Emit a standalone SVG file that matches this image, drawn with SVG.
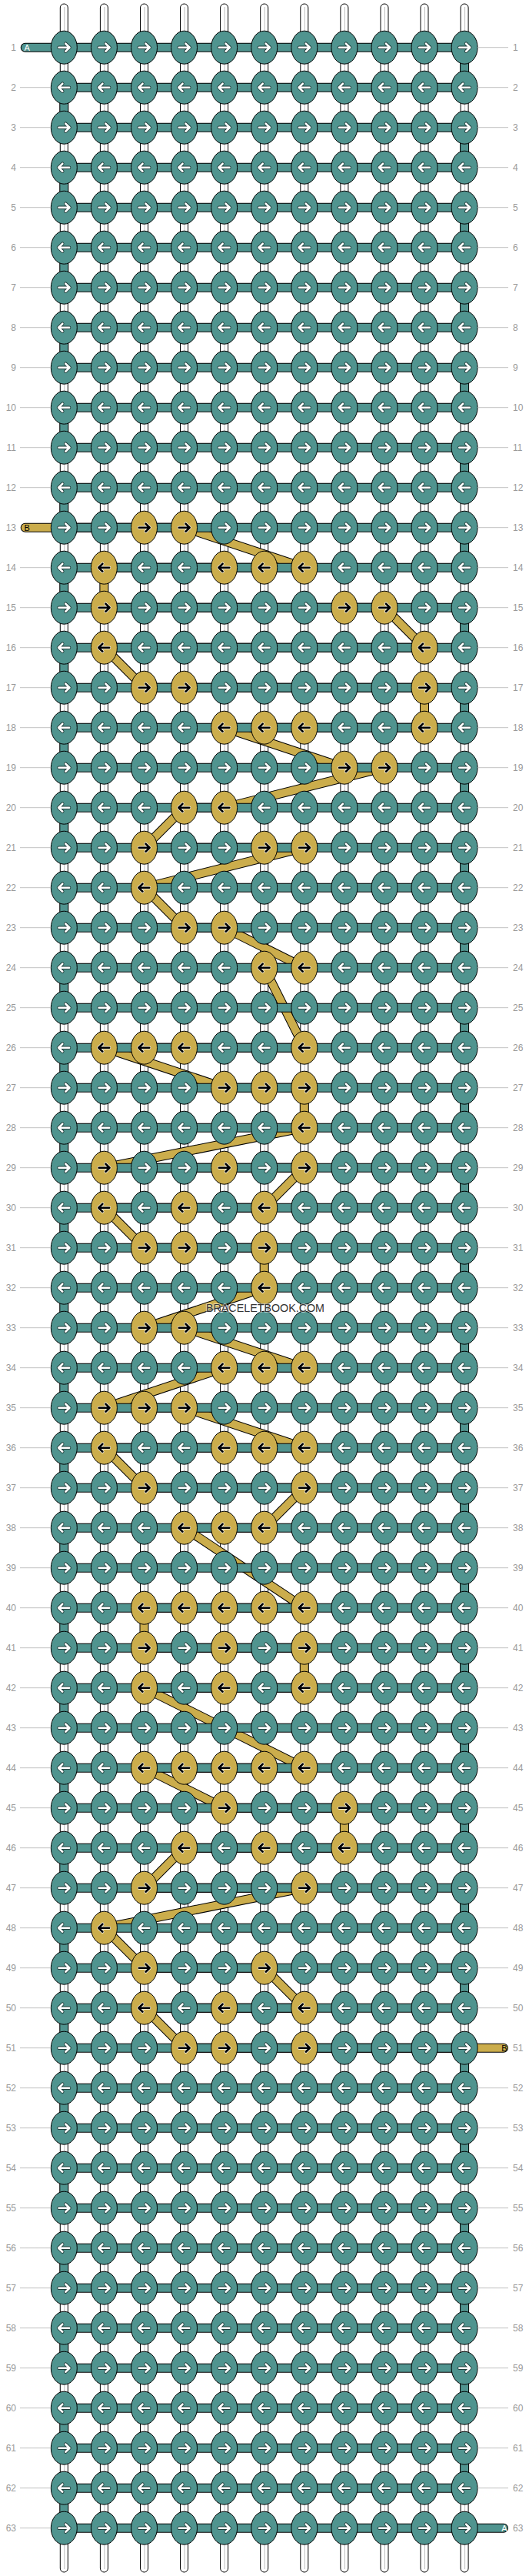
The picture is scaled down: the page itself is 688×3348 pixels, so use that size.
<svg xmlns="http://www.w3.org/2000/svg" xmlns:xlink="http://www.w3.org/1999/xlink" width="688" height="3348" viewBox="0 0 688 3348">
<style>
.s{fill:#fff;stroke:#000;stroke-width:1}
.sc{fill:none;stroke:#bdbdbd;stroke-width:1}
.po{fill:none;stroke:#000;stroke-width:12;stroke-linecap:round;stroke-linejoin:round}
.pt{fill:none;stroke:#50948f;stroke-width:10;stroke-linecap:round;stroke-linejoin:round}
.pg{fill:none;stroke:#cbad4c;stroke-width:10;stroke-linecap:round;stroke-linejoin:round}
.kt{fill:#50948f;stroke:#000;stroke-width:1}
.kg{fill:#cbad4c;stroke:#000;stroke-width:1}
.ow{fill:none;stroke:#1f3d3a;stroke-width:4.4;stroke-linecap:round;stroke-linejoin:round}
.iw{fill:none;stroke:#fff;stroke-width:2.6;stroke-linecap:round;stroke-linejoin:round}
.ob{fill:none;stroke:#fff;stroke-width:4;stroke-linecap:round;stroke-linejoin:round}
.ib{fill:none;stroke:#000;stroke-width:2.6;stroke-linecap:round;stroke-linejoin:round}
.gl{fill:none;stroke:#c2c2c2;stroke-width:1}
.lb{font-family:"Liberation Sans",Arial,sans-serif;font-size:12px;fill:#9a9a9a}
.st{font-family:"Liberation Sans",Arial,sans-serif;font-size:11px}
.wm{font-family:"Liberation Sans",Arial,sans-serif;font-size:15px;fill:#333;stroke:#fff;stroke-opacity:0.5;stroke-width:2;paint-order:stroke}
</style>
<defs>
<path id="ar" d="M-6.8 0H7M2-5L7.2 0L2 5"/>
<g id="tR"><ellipse class="kt" rx="17" ry="21.5"/><use href="#ar" class="ow"/><use href="#ar" class="iw"/></g>
<g id="tL"><ellipse class="kt" rx="17" ry="21.5"/><g transform="scale(-1 1)"><use href="#ar" class="ow"/><use href="#ar" class="iw"/></g></g>
<g id="gR"><ellipse class="kg" rx="17" ry="21.5"/><use href="#ar" class="ob"/><use href="#ar" class="ib"/></g>
<g id="gL"><ellipse class="kg" rx="17" ry="21.5"/><g transform="scale(-1 1)"><use href="#ar" class="ob"/><use href="#ar" class="ib"/></g></g>
<path id="pB" d="M32.7 685.7H239.5L395.8 737.7H135.4L135.4 789.7H500L552 841.7H135.4L187.5 893.7H552L552 945.7H291.6L447.9 997.7H500L291.6 1049.7H239.5L187.5 1101.7H395.8L187.5 1153.7L239.5 1205.7H291.6L395.8 1257.7H343.7L395.8 1361.7H135.4L291.6 1413.7H395.8L395.8 1465.7L135.4 1517.7H395.8L343.7 1569.7H135.4L187.5 1621.7H343.7L343.7 1673.7L187.5 1725.7H239.5L395.8 1777.7H291.6L135.4 1829.7H239.5L395.8 1881.7H135.4L187.5 1933.7H395.8L343.7 1985.7H239.5L395.8 2089.7H187.5L187.5 2141.7H395.8L395.8 2193.7H187.5L395.8 2297.7H187.5L291.6 2349.7H447.9L447.9 2401.7H239.5L187.5 2453.7H395.8L135.4 2505.7L187.5 2557.7H343.7L395.8 2609.7H187.5L239.5 2661.7H655"/>
<path id="pA" d="M32.7 61.7H604.1V113.7H83.3V165.7H604.1V217.7H83.3V269.7H604.1V321.7H83.3V373.7H604.1V425.7H83.3V477.7H604.1V529.7H83.3V581.7H604.1V633.7H83.3V685.7H604.1V737.7H83.3V789.7H604.1V841.7H83.3V893.7H604.1V945.7H83.3V997.7H604.1V1049.7H83.3V1101.7H604.1V1153.7H83.3V1205.7H604.1V1257.7H83.3V1309.7H604.1V1361.7H83.3V1413.7H604.1V1465.7H83.3V1517.7H604.1V1569.7H83.3V1621.7H604.1V1673.7H83.3V1725.7H604.1V1777.7H83.3V1829.7H604.1V1881.7H83.3V1933.7H604.1V1985.7H83.3V2037.7H604.1V2089.7H83.3V2141.7H604.1V2193.7H83.3V2245.7H604.1V2297.7H83.3V2349.7H604.1V2401.7H83.3V2453.7H604.1V2505.7H83.3V2557.7H604.1V2609.7H83.3V2661.7H604.1V2713.7H83.3V2765.7H604.1V2817.7H83.3V2869.7H604.1V2921.7H83.3V2973.7H604.1V3025.7H83.3V3077.7H604.1V3129.7H83.3V3181.7H604.1V3233.7H83.3V3285.7H655"/>
</defs>
<rect width="688" height="3348" fill="#fff"/>
<g id="strands">
<rect class="s" x="78.3" y="5" width="10" height="3338" rx="5"/>
<rect class="s" x="130.4" y="5" width="10" height="3338" rx="5"/>
<rect class="s" x="182.5" y="5" width="10" height="3338" rx="5"/>
<rect class="s" x="234.5" y="5" width="10" height="3338" rx="5"/>
<rect class="s" x="286.6" y="5" width="10" height="3338" rx="5"/>
<rect class="s" x="338.7" y="5" width="10" height="3338" rx="5"/>
<rect class="s" x="390.8" y="5" width="10" height="3338" rx="5"/>
<rect class="s" x="442.9" y="5" width="10" height="3338" rx="5"/>
<rect class="s" x="495" y="5" width="10" height="3338" rx="5"/>
<rect class="s" x="547" y="5" width="10" height="3338" rx="5"/>
<rect class="s" x="599.1" y="5" width="10" height="3338" rx="5"/>
<path class="sc" d="M83.8 9V3339M135.9 9V3339M188 9V3339M240 9V3339M292.1 9V3339M344.2 9V3339M396.3 9V3339M448.4 9V3339M500.5 9V3339M552.5 9V3339M604.6 9V3339"/>
</g>
<g id="connectors">
<use href="#pB" class="po"/>
<use href="#pB" class="pg"/>
<use href="#pA" class="po"/>
<use href="#pA" class="pt"/>
<text class="st" x="31.5" y="65.7" fill="#fff">A</text>
<text class="st" x="31.5" y="689.7" fill="#000">B</text>
<text class="st" x="659.5" y="2665.7" fill="#000" text-anchor="end">B</text>
<text class="st" x="659.5" y="3289.7" fill="#fff" text-anchor="end">A</text>
</g>
<g id="knots">
<g id="row1" transform="translate(0 61.7)"><g id="k1-1"><use href="#tR" x="83.3"/></g><g id="k1-2"><use href="#tR" x="135.4"/></g><g id="k1-3"><use href="#tR" x="187.5"/></g><g id="k1-4"><use href="#tR" x="239.5"/></g><g id="k1-5"><use href="#tR" x="291.6"/></g><g id="k1-6"><use href="#tR" x="343.7"/></g><g id="k1-7"><use href="#tR" x="395.8"/></g><g id="k1-8"><use href="#tR" x="447.9"/></g><g id="k1-9"><use href="#tR" x="500"/></g><g id="k1-10"><use href="#tR" x="552"/></g><g id="k1-11"><use href="#tR" x="604.1"/></g></g>
<g id="row2" transform="translate(0 113.7)"><g id="k2-1"><use href="#tL" x="83.3"/></g><g id="k2-2"><use href="#tL" x="135.4"/></g><g id="k2-3"><use href="#tL" x="187.5"/></g><g id="k2-4"><use href="#tL" x="239.5"/></g><g id="k2-5"><use href="#tL" x="291.6"/></g><g id="k2-6"><use href="#tL" x="343.7"/></g><g id="k2-7"><use href="#tL" x="395.8"/></g><g id="k2-8"><use href="#tL" x="447.9"/></g><g id="k2-9"><use href="#tL" x="500"/></g><g id="k2-10"><use href="#tL" x="552"/></g><g id="k2-11"><use href="#tL" x="604.1"/></g></g>
<g id="row3" transform="translate(0 165.7)"><g id="k3-1"><use href="#tR" x="83.3"/></g><g id="k3-2"><use href="#tR" x="135.4"/></g><g id="k3-3"><use href="#tR" x="187.5"/></g><g id="k3-4"><use href="#tR" x="239.5"/></g><g id="k3-5"><use href="#tR" x="291.6"/></g><g id="k3-6"><use href="#tR" x="343.7"/></g><g id="k3-7"><use href="#tR" x="395.8"/></g><g id="k3-8"><use href="#tR" x="447.9"/></g><g id="k3-9"><use href="#tR" x="500"/></g><g id="k3-10"><use href="#tR" x="552"/></g><g id="k3-11"><use href="#tR" x="604.1"/></g></g>
<g id="row4" transform="translate(0 217.7)"><g id="k4-1"><use href="#tL" x="83.3"/></g><g id="k4-2"><use href="#tL" x="135.4"/></g><g id="k4-3"><use href="#tL" x="187.5"/></g><g id="k4-4"><use href="#tL" x="239.5"/></g><g id="k4-5"><use href="#tL" x="291.6"/></g><g id="k4-6"><use href="#tL" x="343.7"/></g><g id="k4-7"><use href="#tL" x="395.8"/></g><g id="k4-8"><use href="#tL" x="447.9"/></g><g id="k4-9"><use href="#tL" x="500"/></g><g id="k4-10"><use href="#tL" x="552"/></g><g id="k4-11"><use href="#tL" x="604.1"/></g></g>
<g id="row5" transform="translate(0 269.7)"><g id="k5-1"><use href="#tR" x="83.3"/></g><g id="k5-2"><use href="#tR" x="135.4"/></g><g id="k5-3"><use href="#tR" x="187.5"/></g><g id="k5-4"><use href="#tR" x="239.5"/></g><g id="k5-5"><use href="#tR" x="291.6"/></g><g id="k5-6"><use href="#tR" x="343.7"/></g><g id="k5-7"><use href="#tR" x="395.8"/></g><g id="k5-8"><use href="#tR" x="447.9"/></g><g id="k5-9"><use href="#tR" x="500"/></g><g id="k5-10"><use href="#tR" x="552"/></g><g id="k5-11"><use href="#tR" x="604.1"/></g></g>
<g id="row6" transform="translate(0 321.7)"><g id="k6-1"><use href="#tL" x="83.3"/></g><g id="k6-2"><use href="#tL" x="135.4"/></g><g id="k6-3"><use href="#tL" x="187.5"/></g><g id="k6-4"><use href="#tL" x="239.5"/></g><g id="k6-5"><use href="#tL" x="291.6"/></g><g id="k6-6"><use href="#tL" x="343.7"/></g><g id="k6-7"><use href="#tL" x="395.8"/></g><g id="k6-8"><use href="#tL" x="447.9"/></g><g id="k6-9"><use href="#tL" x="500"/></g><g id="k6-10"><use href="#tL" x="552"/></g><g id="k6-11"><use href="#tL" x="604.1"/></g></g>
<g id="row7" transform="translate(0 373.7)"><g id="k7-1"><use href="#tR" x="83.3"/></g><g id="k7-2"><use href="#tR" x="135.4"/></g><g id="k7-3"><use href="#tR" x="187.5"/></g><g id="k7-4"><use href="#tR" x="239.5"/></g><g id="k7-5"><use href="#tR" x="291.6"/></g><g id="k7-6"><use href="#tR" x="343.7"/></g><g id="k7-7"><use href="#tR" x="395.8"/></g><g id="k7-8"><use href="#tR" x="447.9"/></g><g id="k7-9"><use href="#tR" x="500"/></g><g id="k7-10"><use href="#tR" x="552"/></g><g id="k7-11"><use href="#tR" x="604.1"/></g></g>
<g id="row8" transform="translate(0 425.7)"><g id="k8-1"><use href="#tL" x="83.3"/></g><g id="k8-2"><use href="#tL" x="135.4"/></g><g id="k8-3"><use href="#tL" x="187.5"/></g><g id="k8-4"><use href="#tL" x="239.5"/></g><g id="k8-5"><use href="#tL" x="291.6"/></g><g id="k8-6"><use href="#tL" x="343.7"/></g><g id="k8-7"><use href="#tL" x="395.8"/></g><g id="k8-8"><use href="#tL" x="447.9"/></g><g id="k8-9"><use href="#tL" x="500"/></g><g id="k8-10"><use href="#tL" x="552"/></g><g id="k8-11"><use href="#tL" x="604.1"/></g></g>
<g id="row9" transform="translate(0 477.7)"><g id="k9-1"><use href="#tR" x="83.3"/></g><g id="k9-2"><use href="#tR" x="135.4"/></g><g id="k9-3"><use href="#tR" x="187.5"/></g><g id="k9-4"><use href="#tR" x="239.5"/></g><g id="k9-5"><use href="#tR" x="291.6"/></g><g id="k9-6"><use href="#tR" x="343.7"/></g><g id="k9-7"><use href="#tR" x="395.8"/></g><g id="k9-8"><use href="#tR" x="447.9"/></g><g id="k9-9"><use href="#tR" x="500"/></g><g id="k9-10"><use href="#tR" x="552"/></g><g id="k9-11"><use href="#tR" x="604.1"/></g></g>
<g id="row10" transform="translate(0 529.7)"><g id="k10-1"><use href="#tL" x="83.3"/></g><g id="k10-2"><use href="#tL" x="135.4"/></g><g id="k10-3"><use href="#tL" x="187.5"/></g><g id="k10-4"><use href="#tL" x="239.5"/></g><g id="k10-5"><use href="#tL" x="291.6"/></g><g id="k10-6"><use href="#tL" x="343.7"/></g><g id="k10-7"><use href="#tL" x="395.8"/></g><g id="k10-8"><use href="#tL" x="447.9"/></g><g id="k10-9"><use href="#tL" x="500"/></g><g id="k10-10"><use href="#tL" x="552"/></g><g id="k10-11"><use href="#tL" x="604.1"/></g></g>
<g id="row11" transform="translate(0 581.7)"><g id="k11-1"><use href="#tR" x="83.3"/></g><g id="k11-2"><use href="#tR" x="135.4"/></g><g id="k11-3"><use href="#tR" x="187.5"/></g><g id="k11-4"><use href="#tR" x="239.5"/></g><g id="k11-5"><use href="#tR" x="291.6"/></g><g id="k11-6"><use href="#tR" x="343.7"/></g><g id="k11-7"><use href="#tR" x="395.8"/></g><g id="k11-8"><use href="#tR" x="447.9"/></g><g id="k11-9"><use href="#tR" x="500"/></g><g id="k11-10"><use href="#tR" x="552"/></g><g id="k11-11"><use href="#tR" x="604.1"/></g></g>
<g id="row12" transform="translate(0 633.7)"><g id="k12-1"><use href="#tL" x="83.3"/></g><g id="k12-2"><use href="#tL" x="135.4"/></g><g id="k12-3"><use href="#tL" x="187.5"/></g><g id="k12-4"><use href="#tL" x="239.5"/></g><g id="k12-5"><use href="#tL" x="291.6"/></g><g id="k12-6"><use href="#tL" x="343.7"/></g><g id="k12-7"><use href="#tL" x="395.8"/></g><g id="k12-8"><use href="#tL" x="447.9"/></g><g id="k12-9"><use href="#tL" x="500"/></g><g id="k12-10"><use href="#tL" x="552"/></g><g id="k12-11"><use href="#tL" x="604.1"/></g></g>
<g id="row13" transform="translate(0 685.7)"><g id="k13-1"><use href="#tR" x="83.3"/></g><g id="k13-2"><use href="#tR" x="135.4"/></g><g id="k13-3"><use href="#gR" x="187.5"/></g><g id="k13-4"><use href="#gR" x="239.5"/></g><g id="k13-5"><use href="#tR" x="291.6"/></g><g id="k13-6"><use href="#tR" x="343.7"/></g><g id="k13-7"><use href="#tR" x="395.8"/></g><g id="k13-8"><use href="#tR" x="447.9"/></g><g id="k13-9"><use href="#tR" x="500"/></g><g id="k13-10"><use href="#tR" x="552"/></g><g id="k13-11"><use href="#tR" x="604.1"/></g></g>
<g id="row14" transform="translate(0 737.7)"><g id="k14-1"><use href="#tL" x="83.3"/></g><g id="k14-2"><use href="#gL" x="135.4"/></g><g id="k14-3"><use href="#tL" x="187.5"/></g><g id="k14-4"><use href="#tL" x="239.5"/></g><g id="k14-5"><use href="#gL" x="291.6"/></g><g id="k14-6"><use href="#gL" x="343.7"/></g><g id="k14-7"><use href="#gL" x="395.8"/></g><g id="k14-8"><use href="#tL" x="447.9"/></g><g id="k14-9"><use href="#tL" x="500"/></g><g id="k14-10"><use href="#tL" x="552"/></g><g id="k14-11"><use href="#tL" x="604.1"/></g></g>
<g id="row15" transform="translate(0 789.7)"><g id="k15-1"><use href="#tR" x="83.3"/></g><g id="k15-2"><use href="#gR" x="135.4"/></g><g id="k15-3"><use href="#tR" x="187.5"/></g><g id="k15-4"><use href="#tR" x="239.5"/></g><g id="k15-5"><use href="#tR" x="291.6"/></g><g id="k15-6"><use href="#tR" x="343.7"/></g><g id="k15-7"><use href="#tR" x="395.8"/></g><g id="k15-8"><use href="#gR" x="447.9"/></g><g id="k15-9"><use href="#gR" x="500"/></g><g id="k15-10"><use href="#tR" x="552"/></g><g id="k15-11"><use href="#tR" x="604.1"/></g></g>
<g id="row16" transform="translate(0 841.7)"><g id="k16-1"><use href="#tL" x="83.3"/></g><g id="k16-2"><use href="#gL" x="135.4"/></g><g id="k16-3"><use href="#tL" x="187.5"/></g><g id="k16-4"><use href="#tL" x="239.5"/></g><g id="k16-5"><use href="#tL" x="291.6"/></g><g id="k16-6"><use href="#tL" x="343.7"/></g><g id="k16-7"><use href="#tL" x="395.8"/></g><g id="k16-8"><use href="#tL" x="447.9"/></g><g id="k16-9"><use href="#tL" x="500"/></g><g id="k16-10"><use href="#gL" x="552"/></g><g id="k16-11"><use href="#tL" x="604.1"/></g></g>
<g id="row17" transform="translate(0 893.7)"><g id="k17-1"><use href="#tR" x="83.3"/></g><g id="k17-2"><use href="#tR" x="135.4"/></g><g id="k17-3"><use href="#gR" x="187.5"/></g><g id="k17-4"><use href="#gR" x="239.5"/></g><g id="k17-5"><use href="#tR" x="291.6"/></g><g id="k17-6"><use href="#tR" x="343.7"/></g><g id="k17-7"><use href="#tR" x="395.8"/></g><g id="k17-8"><use href="#tR" x="447.9"/></g><g id="k17-9"><use href="#tR" x="500"/></g><g id="k17-10"><use href="#gR" x="552"/></g><g id="k17-11"><use href="#tR" x="604.1"/></g></g>
<g id="row18" transform="translate(0 945.7)"><g id="k18-1"><use href="#tL" x="83.3"/></g><g id="k18-2"><use href="#tL" x="135.4"/></g><g id="k18-3"><use href="#tL" x="187.5"/></g><g id="k18-4"><use href="#tL" x="239.5"/></g><g id="k18-5"><use href="#gL" x="291.6"/></g><g id="k18-6"><use href="#gL" x="343.7"/></g><g id="k18-7"><use href="#gL" x="395.8"/></g><g id="k18-8"><use href="#tL" x="447.9"/></g><g id="k18-9"><use href="#tL" x="500"/></g><g id="k18-10"><use href="#gL" x="552"/></g><g id="k18-11"><use href="#tL" x="604.1"/></g></g>
<g id="row19" transform="translate(0 997.7)"><g id="k19-1"><use href="#tR" x="83.3"/></g><g id="k19-2"><use href="#tR" x="135.4"/></g><g id="k19-3"><use href="#tR" x="187.5"/></g><g id="k19-4"><use href="#tR" x="239.5"/></g><g id="k19-5"><use href="#tR" x="291.6"/></g><g id="k19-6"><use href="#tR" x="343.7"/></g><g id="k19-7"><use href="#tR" x="395.8"/></g><g id="k19-8"><use href="#gR" x="447.9"/></g><g id="k19-9"><use href="#gR" x="500"/></g><g id="k19-10"><use href="#tR" x="552"/></g><g id="k19-11"><use href="#tR" x="604.1"/></g></g>
<g id="row20" transform="translate(0 1049.7)"><g id="k20-1"><use href="#tL" x="83.3"/></g><g id="k20-2"><use href="#tL" x="135.4"/></g><g id="k20-3"><use href="#tL" x="187.5"/></g><g id="k20-4"><use href="#gL" x="239.5"/></g><g id="k20-5"><use href="#gL" x="291.6"/></g><g id="k20-6"><use href="#tL" x="343.7"/></g><g id="k20-7"><use href="#tL" x="395.8"/></g><g id="k20-8"><use href="#tL" x="447.9"/></g><g id="k20-9"><use href="#tL" x="500"/></g><g id="k20-10"><use href="#tL" x="552"/></g><g id="k20-11"><use href="#tL" x="604.1"/></g></g>
<g id="row21" transform="translate(0 1101.7)"><g id="k21-1"><use href="#tR" x="83.3"/></g><g id="k21-2"><use href="#tR" x="135.4"/></g><g id="k21-3"><use href="#gR" x="187.5"/></g><g id="k21-4"><use href="#tR" x="239.5"/></g><g id="k21-5"><use href="#tR" x="291.6"/></g><g id="k21-6"><use href="#gR" x="343.7"/></g><g id="k21-7"><use href="#gR" x="395.8"/></g><g id="k21-8"><use href="#tR" x="447.9"/></g><g id="k21-9"><use href="#tR" x="500"/></g><g id="k21-10"><use href="#tR" x="552"/></g><g id="k21-11"><use href="#tR" x="604.1"/></g></g>
<g id="row22" transform="translate(0 1153.7)"><g id="k22-1"><use href="#tL" x="83.3"/></g><g id="k22-2"><use href="#tL" x="135.4"/></g><g id="k22-3"><use href="#gL" x="187.5"/></g><g id="k22-4"><use href="#tL" x="239.5"/></g><g id="k22-5"><use href="#tL" x="291.6"/></g><g id="k22-6"><use href="#tL" x="343.7"/></g><g id="k22-7"><use href="#tL" x="395.8"/></g><g id="k22-8"><use href="#tL" x="447.9"/></g><g id="k22-9"><use href="#tL" x="500"/></g><g id="k22-10"><use href="#tL" x="552"/></g><g id="k22-11"><use href="#tL" x="604.1"/></g></g>
<g id="row23" transform="translate(0 1205.7)"><g id="k23-1"><use href="#tR" x="83.3"/></g><g id="k23-2"><use href="#tR" x="135.4"/></g><g id="k23-3"><use href="#tR" x="187.5"/></g><g id="k23-4"><use href="#gR" x="239.5"/></g><g id="k23-5"><use href="#gR" x="291.6"/></g><g id="k23-6"><use href="#tR" x="343.7"/></g><g id="k23-7"><use href="#tR" x="395.8"/></g><g id="k23-8"><use href="#tR" x="447.9"/></g><g id="k23-9"><use href="#tR" x="500"/></g><g id="k23-10"><use href="#tR" x="552"/></g><g id="k23-11"><use href="#tR" x="604.1"/></g></g>
<g id="row24" transform="translate(0 1257.7)"><g id="k24-1"><use href="#tL" x="83.3"/></g><g id="k24-2"><use href="#tL" x="135.4"/></g><g id="k24-3"><use href="#tL" x="187.5"/></g><g id="k24-4"><use href="#tL" x="239.5"/></g><g id="k24-5"><use href="#tL" x="291.6"/></g><g id="k24-6"><use href="#gL" x="343.7"/></g><g id="k24-7"><use href="#gL" x="395.8"/></g><g id="k24-8"><use href="#tL" x="447.9"/></g><g id="k24-9"><use href="#tL" x="500"/></g><g id="k24-10"><use href="#tL" x="552"/></g><g id="k24-11"><use href="#tL" x="604.1"/></g></g>
<g id="row25" transform="translate(0 1309.7)"><g id="k25-1"><use href="#tR" x="83.3"/></g><g id="k25-2"><use href="#tR" x="135.4"/></g><g id="k25-3"><use href="#tR" x="187.5"/></g><g id="k25-4"><use href="#tR" x="239.5"/></g><g id="k25-5"><use href="#tR" x="291.6"/></g><g id="k25-6"><use href="#tR" x="343.7"/></g><g id="k25-7"><use href="#tR" x="395.8"/></g><g id="k25-8"><use href="#tR" x="447.9"/></g><g id="k25-9"><use href="#tR" x="500"/></g><g id="k25-10"><use href="#tR" x="552"/></g><g id="k25-11"><use href="#tR" x="604.1"/></g></g>
<g id="row26" transform="translate(0 1361.7)"><g id="k26-1"><use href="#tL" x="83.3"/></g><g id="k26-2"><use href="#gL" x="135.4"/></g><g id="k26-3"><use href="#gL" x="187.5"/></g><g id="k26-4"><use href="#gL" x="239.5"/></g><g id="k26-5"><use href="#tL" x="291.6"/></g><g id="k26-6"><use href="#tL" x="343.7"/></g><g id="k26-7"><use href="#gL" x="395.8"/></g><g id="k26-8"><use href="#tL" x="447.9"/></g><g id="k26-9"><use href="#tL" x="500"/></g><g id="k26-10"><use href="#tL" x="552"/></g><g id="k26-11"><use href="#tL" x="604.1"/></g></g>
<g id="row27" transform="translate(0 1413.7)"><g id="k27-1"><use href="#tR" x="83.3"/></g><g id="k27-2"><use href="#tR" x="135.4"/></g><g id="k27-3"><use href="#tR" x="187.5"/></g><g id="k27-4"><use href="#tR" x="239.5"/></g><g id="k27-5"><use href="#gR" x="291.6"/></g><g id="k27-6"><use href="#gR" x="343.7"/></g><g id="k27-7"><use href="#gR" x="395.8"/></g><g id="k27-8"><use href="#tR" x="447.9"/></g><g id="k27-9"><use href="#tR" x="500"/></g><g id="k27-10"><use href="#tR" x="552"/></g><g id="k27-11"><use href="#tR" x="604.1"/></g></g>
<g id="row28" transform="translate(0 1465.7)"><g id="k28-1"><use href="#tL" x="83.3"/></g><g id="k28-2"><use href="#tL" x="135.4"/></g><g id="k28-3"><use href="#tL" x="187.5"/></g><g id="k28-4"><use href="#tL" x="239.5"/></g><g id="k28-5"><use href="#tL" x="291.6"/></g><g id="k28-6"><use href="#tL" x="343.7"/></g><g id="k28-7"><use href="#gL" x="395.8"/></g><g id="k28-8"><use href="#tL" x="447.9"/></g><g id="k28-9"><use href="#tL" x="500"/></g><g id="k28-10"><use href="#tL" x="552"/></g><g id="k28-11"><use href="#tL" x="604.1"/></g></g>
<g id="row29" transform="translate(0 1517.7)"><g id="k29-1"><use href="#tR" x="83.3"/></g><g id="k29-2"><use href="#gR" x="135.4"/></g><g id="k29-3"><use href="#tR" x="187.5"/></g><g id="k29-4"><use href="#tR" x="239.5"/></g><g id="k29-5"><use href="#gR" x="291.6"/></g><g id="k29-6"><use href="#tR" x="343.7"/></g><g id="k29-7"><use href="#gR" x="395.8"/></g><g id="k29-8"><use href="#tR" x="447.9"/></g><g id="k29-9"><use href="#tR" x="500"/></g><g id="k29-10"><use href="#tR" x="552"/></g><g id="k29-11"><use href="#tR" x="604.1"/></g></g>
<g id="row30" transform="translate(0 1569.7)"><g id="k30-1"><use href="#tL" x="83.3"/></g><g id="k30-2"><use href="#gL" x="135.4"/></g><g id="k30-3"><use href="#tL" x="187.5"/></g><g id="k30-4"><use href="#gL" x="239.5"/></g><g id="k30-5"><use href="#tL" x="291.6"/></g><g id="k30-6"><use href="#gL" x="343.7"/></g><g id="k30-7"><use href="#tL" x="395.8"/></g><g id="k30-8"><use href="#tL" x="447.9"/></g><g id="k30-9"><use href="#tL" x="500"/></g><g id="k30-10"><use href="#tL" x="552"/></g><g id="k30-11"><use href="#tL" x="604.1"/></g></g>
<g id="row31" transform="translate(0 1621.7)"><g id="k31-1"><use href="#tR" x="83.3"/></g><g id="k31-2"><use href="#tR" x="135.4"/></g><g id="k31-3"><use href="#gR" x="187.5"/></g><g id="k31-4"><use href="#gR" x="239.5"/></g><g id="k31-5"><use href="#tR" x="291.6"/></g><g id="k31-6"><use href="#gR" x="343.7"/></g><g id="k31-7"><use href="#tR" x="395.8"/></g><g id="k31-8"><use href="#tR" x="447.9"/></g><g id="k31-9"><use href="#tR" x="500"/></g><g id="k31-10"><use href="#tR" x="552"/></g><g id="k31-11"><use href="#tR" x="604.1"/></g></g>
<g id="row32" transform="translate(0 1673.7)"><g id="k32-1"><use href="#tL" x="83.3"/></g><g id="k32-2"><use href="#tL" x="135.4"/></g><g id="k32-3"><use href="#tL" x="187.5"/></g><g id="k32-4"><use href="#tL" x="239.5"/></g><g id="k32-5"><use href="#tL" x="291.6"/></g><g id="k32-6"><use href="#gL" x="343.7"/></g><g id="k32-7"><use href="#tL" x="395.8"/></g><g id="k32-8"><use href="#tL" x="447.9"/></g><g id="k32-9"><use href="#tL" x="500"/></g><g id="k32-10"><use href="#tL" x="552"/></g><g id="k32-11"><use href="#tL" x="604.1"/></g></g>
<g id="row33" transform="translate(0 1725.7)"><g id="k33-1"><use href="#tR" x="83.3"/></g><g id="k33-2"><use href="#tR" x="135.4"/></g><g id="k33-3"><use href="#gR" x="187.5"/></g><g id="k33-4"><use href="#gR" x="239.5"/></g><g id="k33-5"><use href="#tR" x="291.6"/></g><g id="k33-6"><use href="#tR" x="343.7"/></g><g id="k33-7"><use href="#tR" x="395.8"/></g><g id="k33-8"><use href="#tR" x="447.9"/></g><g id="k33-9"><use href="#tR" x="500"/></g><g id="k33-10"><use href="#tR" x="552"/></g><g id="k33-11"><use href="#tR" x="604.1"/></g></g>
<g id="row34" transform="translate(0 1777.7)"><g id="k34-1"><use href="#tL" x="83.3"/></g><g id="k34-2"><use href="#tL" x="135.4"/></g><g id="k34-3"><use href="#tL" x="187.5"/></g><g id="k34-4"><use href="#tL" x="239.5"/></g><g id="k34-5"><use href="#gL" x="291.6"/></g><g id="k34-6"><use href="#gL" x="343.7"/></g><g id="k34-7"><use href="#gL" x="395.8"/></g><g id="k34-8"><use href="#tL" x="447.9"/></g><g id="k34-9"><use href="#tL" x="500"/></g><g id="k34-10"><use href="#tL" x="552"/></g><g id="k34-11"><use href="#tL" x="604.1"/></g></g>
<g id="row35" transform="translate(0 1829.7)"><g id="k35-1"><use href="#tR" x="83.3"/></g><g id="k35-2"><use href="#gR" x="135.4"/></g><g id="k35-3"><use href="#gR" x="187.5"/></g><g id="k35-4"><use href="#gR" x="239.5"/></g><g id="k35-5"><use href="#tR" x="291.6"/></g><g id="k35-6"><use href="#tR" x="343.7"/></g><g id="k35-7"><use href="#tR" x="395.8"/></g><g id="k35-8"><use href="#tR" x="447.9"/></g><g id="k35-9"><use href="#tR" x="500"/></g><g id="k35-10"><use href="#tR" x="552"/></g><g id="k35-11"><use href="#tR" x="604.1"/></g></g>
<g id="row36" transform="translate(0 1881.7)"><g id="k36-1"><use href="#tL" x="83.3"/></g><g id="k36-2"><use href="#gL" x="135.4"/></g><g id="k36-3"><use href="#tL" x="187.5"/></g><g id="k36-4"><use href="#tL" x="239.5"/></g><g id="k36-5"><use href="#gL" x="291.6"/></g><g id="k36-6"><use href="#gL" x="343.7"/></g><g id="k36-7"><use href="#gL" x="395.8"/></g><g id="k36-8"><use href="#tL" x="447.9"/></g><g id="k36-9"><use href="#tL" x="500"/></g><g id="k36-10"><use href="#tL" x="552"/></g><g id="k36-11"><use href="#tL" x="604.1"/></g></g>
<g id="row37" transform="translate(0 1933.7)"><g id="k37-1"><use href="#tR" x="83.3"/></g><g id="k37-2"><use href="#tR" x="135.4"/></g><g id="k37-3"><use href="#gR" x="187.5"/></g><g id="k37-4"><use href="#tR" x="239.5"/></g><g id="k37-5"><use href="#tR" x="291.6"/></g><g id="k37-6"><use href="#tR" x="343.7"/></g><g id="k37-7"><use href="#gR" x="395.8"/></g><g id="k37-8"><use href="#tR" x="447.9"/></g><g id="k37-9"><use href="#tR" x="500"/></g><g id="k37-10"><use href="#tR" x="552"/></g><g id="k37-11"><use href="#tR" x="604.1"/></g></g>
<g id="row38" transform="translate(0 1985.7)"><g id="k38-1"><use href="#tL" x="83.3"/></g><g id="k38-2"><use href="#tL" x="135.4"/></g><g id="k38-3"><use href="#tL" x="187.5"/></g><g id="k38-4"><use href="#gL" x="239.5"/></g><g id="k38-5"><use href="#gL" x="291.6"/></g><g id="k38-6"><use href="#gL" x="343.7"/></g><g id="k38-7"><use href="#tL" x="395.8"/></g><g id="k38-8"><use href="#tL" x="447.9"/></g><g id="k38-9"><use href="#tL" x="500"/></g><g id="k38-10"><use href="#tL" x="552"/></g><g id="k38-11"><use href="#tL" x="604.1"/></g></g>
<g id="row39" transform="translate(0 2037.7)"><g id="k39-1"><use href="#tR" x="83.3"/></g><g id="k39-2"><use href="#tR" x="135.4"/></g><g id="k39-3"><use href="#tR" x="187.5"/></g><g id="k39-4"><use href="#tR" x="239.5"/></g><g id="k39-5"><use href="#tR" x="291.6"/></g><g id="k39-6"><use href="#tR" x="343.7"/></g><g id="k39-7"><use href="#tR" x="395.8"/></g><g id="k39-8"><use href="#tR" x="447.9"/></g><g id="k39-9"><use href="#tR" x="500"/></g><g id="k39-10"><use href="#tR" x="552"/></g><g id="k39-11"><use href="#tR" x="604.1"/></g></g>
<g id="row40" transform="translate(0 2089.7)"><g id="k40-1"><use href="#tL" x="83.3"/></g><g id="k40-2"><use href="#tL" x="135.4"/></g><g id="k40-3"><use href="#gL" x="187.5"/></g><g id="k40-4"><use href="#gL" x="239.5"/></g><g id="k40-5"><use href="#gL" x="291.6"/></g><g id="k40-6"><use href="#gL" x="343.7"/></g><g id="k40-7"><use href="#gL" x="395.8"/></g><g id="k40-8"><use href="#tL" x="447.9"/></g><g id="k40-9"><use href="#tL" x="500"/></g><g id="k40-10"><use href="#tL" x="552"/></g><g id="k40-11"><use href="#tL" x="604.1"/></g></g>
<g id="row41" transform="translate(0 2141.7)"><g id="k41-1"><use href="#tR" x="83.3"/></g><g id="k41-2"><use href="#tR" x="135.4"/></g><g id="k41-3"><use href="#gR" x="187.5"/></g><g id="k41-4"><use href="#tR" x="239.5"/></g><g id="k41-5"><use href="#gR" x="291.6"/></g><g id="k41-6"><use href="#tR" x="343.7"/></g><g id="k41-7"><use href="#gR" x="395.8"/></g><g id="k41-8"><use href="#tR" x="447.9"/></g><g id="k41-9"><use href="#tR" x="500"/></g><g id="k41-10"><use href="#tR" x="552"/></g><g id="k41-11"><use href="#tR" x="604.1"/></g></g>
<g id="row42" transform="translate(0 2193.7)"><g id="k42-1"><use href="#tL" x="83.3"/></g><g id="k42-2"><use href="#tL" x="135.4"/></g><g id="k42-3"><use href="#gL" x="187.5"/></g><g id="k42-4"><use href="#tL" x="239.5"/></g><g id="k42-5"><use href="#gL" x="291.6"/></g><g id="k42-6"><use href="#tL" x="343.7"/></g><g id="k42-7"><use href="#gL" x="395.8"/></g><g id="k42-8"><use href="#tL" x="447.9"/></g><g id="k42-9"><use href="#tL" x="500"/></g><g id="k42-10"><use href="#tL" x="552"/></g><g id="k42-11"><use href="#tL" x="604.1"/></g></g>
<g id="row43" transform="translate(0 2245.7)"><g id="k43-1"><use href="#tR" x="83.3"/></g><g id="k43-2"><use href="#tR" x="135.4"/></g><g id="k43-3"><use href="#tR" x="187.5"/></g><g id="k43-4"><use href="#tR" x="239.5"/></g><g id="k43-5"><use href="#tR" x="291.6"/></g><g id="k43-6"><use href="#tR" x="343.7"/></g><g id="k43-7"><use href="#tR" x="395.8"/></g><g id="k43-8"><use href="#tR" x="447.9"/></g><g id="k43-9"><use href="#tR" x="500"/></g><g id="k43-10"><use href="#tR" x="552"/></g><g id="k43-11"><use href="#tR" x="604.1"/></g></g>
<g id="row44" transform="translate(0 2297.7)"><g id="k44-1"><use href="#tL" x="83.3"/></g><g id="k44-2"><use href="#tL" x="135.4"/></g><g id="k44-3"><use href="#gL" x="187.5"/></g><g id="k44-4"><use href="#gL" x="239.5"/></g><g id="k44-5"><use href="#gL" x="291.6"/></g><g id="k44-6"><use href="#gL" x="343.7"/></g><g id="k44-7"><use href="#gL" x="395.8"/></g><g id="k44-8"><use href="#tL" x="447.9"/></g><g id="k44-9"><use href="#tL" x="500"/></g><g id="k44-10"><use href="#tL" x="552"/></g><g id="k44-11"><use href="#tL" x="604.1"/></g></g>
<g id="row45" transform="translate(0 2349.7)"><g id="k45-1"><use href="#tR" x="83.3"/></g><g id="k45-2"><use href="#tR" x="135.4"/></g><g id="k45-3"><use href="#tR" x="187.5"/></g><g id="k45-4"><use href="#tR" x="239.5"/></g><g id="k45-5"><use href="#gR" x="291.6"/></g><g id="k45-6"><use href="#tR" x="343.7"/></g><g id="k45-7"><use href="#tR" x="395.8"/></g><g id="k45-8"><use href="#gR" x="447.9"/></g><g id="k45-9"><use href="#tR" x="500"/></g><g id="k45-10"><use href="#tR" x="552"/></g><g id="k45-11"><use href="#tR" x="604.1"/></g></g>
<g id="row46" transform="translate(0 2401.7)"><g id="k46-1"><use href="#tL" x="83.3"/></g><g id="k46-2"><use href="#tL" x="135.4"/></g><g id="k46-3"><use href="#tL" x="187.5"/></g><g id="k46-4"><use href="#gL" x="239.5"/></g><g id="k46-5"><use href="#tL" x="291.6"/></g><g id="k46-6"><use href="#gL" x="343.7"/></g><g id="k46-7"><use href="#tL" x="395.8"/></g><g id="k46-8"><use href="#gL" x="447.9"/></g><g id="k46-9"><use href="#tL" x="500"/></g><g id="k46-10"><use href="#tL" x="552"/></g><g id="k46-11"><use href="#tL" x="604.1"/></g></g>
<g id="row47" transform="translate(0 2453.7)"><g id="k47-1"><use href="#tR" x="83.3"/></g><g id="k47-2"><use href="#tR" x="135.4"/></g><g id="k47-3"><use href="#gR" x="187.5"/></g><g id="k47-4"><use href="#tR" x="239.5"/></g><g id="k47-5"><use href="#tR" x="291.6"/></g><g id="k47-6"><use href="#tR" x="343.7"/></g><g id="k47-7"><use href="#gR" x="395.8"/></g><g id="k47-8"><use href="#tR" x="447.9"/></g><g id="k47-9"><use href="#tR" x="500"/></g><g id="k47-10"><use href="#tR" x="552"/></g><g id="k47-11"><use href="#tR" x="604.1"/></g></g>
<g id="row48" transform="translate(0 2505.7)"><g id="k48-1"><use href="#tL" x="83.3"/></g><g id="k48-2"><use href="#gL" x="135.4"/></g><g id="k48-3"><use href="#tL" x="187.5"/></g><g id="k48-4"><use href="#tL" x="239.5"/></g><g id="k48-5"><use href="#tL" x="291.6"/></g><g id="k48-6"><use href="#tL" x="343.7"/></g><g id="k48-7"><use href="#tL" x="395.8"/></g><g id="k48-8"><use href="#tL" x="447.9"/></g><g id="k48-9"><use href="#tL" x="500"/></g><g id="k48-10"><use href="#tL" x="552"/></g><g id="k48-11"><use href="#tL" x="604.1"/></g></g>
<g id="row49" transform="translate(0 2557.7)"><g id="k49-1"><use href="#tR" x="83.3"/></g><g id="k49-2"><use href="#tR" x="135.4"/></g><g id="k49-3"><use href="#gR" x="187.5"/></g><g id="k49-4"><use href="#tR" x="239.5"/></g><g id="k49-5"><use href="#tR" x="291.6"/></g><g id="k49-6"><use href="#gR" x="343.7"/></g><g id="k49-7"><use href="#tR" x="395.8"/></g><g id="k49-8"><use href="#tR" x="447.9"/></g><g id="k49-9"><use href="#tR" x="500"/></g><g id="k49-10"><use href="#tR" x="552"/></g><g id="k49-11"><use href="#tR" x="604.1"/></g></g>
<g id="row50" transform="translate(0 2609.7)"><g id="k50-1"><use href="#tL" x="83.3"/></g><g id="k50-2"><use href="#tL" x="135.4"/></g><g id="k50-3"><use href="#gL" x="187.5"/></g><g id="k50-4"><use href="#tL" x="239.5"/></g><g id="k50-5"><use href="#gL" x="291.6"/></g><g id="k50-6"><use href="#tL" x="343.7"/></g><g id="k50-7"><use href="#gL" x="395.8"/></g><g id="k50-8"><use href="#tL" x="447.9"/></g><g id="k50-9"><use href="#tL" x="500"/></g><g id="k50-10"><use href="#tL" x="552"/></g><g id="k50-11"><use href="#tL" x="604.1"/></g></g>
<g id="row51" transform="translate(0 2661.7)"><g id="k51-1"><use href="#tR" x="83.3"/></g><g id="k51-2"><use href="#tR" x="135.4"/></g><g id="k51-3"><use href="#tR" x="187.5"/></g><g id="k51-4"><use href="#gR" x="239.5"/></g><g id="k51-5"><use href="#gR" x="291.6"/></g><g id="k51-6"><use href="#tR" x="343.7"/></g><g id="k51-7"><use href="#gR" x="395.8"/></g><g id="k51-8"><use href="#tR" x="447.9"/></g><g id="k51-9"><use href="#tR" x="500"/></g><g id="k51-10"><use href="#tR" x="552"/></g><g id="k51-11"><use href="#tR" x="604.1"/></g></g>
<g id="row52" transform="translate(0 2713.7)"><g id="k52-1"><use href="#tL" x="83.3"/></g><g id="k52-2"><use href="#tL" x="135.4"/></g><g id="k52-3"><use href="#tL" x="187.5"/></g><g id="k52-4"><use href="#tL" x="239.5"/></g><g id="k52-5"><use href="#tL" x="291.6"/></g><g id="k52-6"><use href="#tL" x="343.7"/></g><g id="k52-7"><use href="#tL" x="395.8"/></g><g id="k52-8"><use href="#tL" x="447.9"/></g><g id="k52-9"><use href="#tL" x="500"/></g><g id="k52-10"><use href="#tL" x="552"/></g><g id="k52-11"><use href="#tL" x="604.1"/></g></g>
<g id="row53" transform="translate(0 2765.7)"><g id="k53-1"><use href="#tR" x="83.3"/></g><g id="k53-2"><use href="#tR" x="135.4"/></g><g id="k53-3"><use href="#tR" x="187.5"/></g><g id="k53-4"><use href="#tR" x="239.5"/></g><g id="k53-5"><use href="#tR" x="291.6"/></g><g id="k53-6"><use href="#tR" x="343.7"/></g><g id="k53-7"><use href="#tR" x="395.8"/></g><g id="k53-8"><use href="#tR" x="447.9"/></g><g id="k53-9"><use href="#tR" x="500"/></g><g id="k53-10"><use href="#tR" x="552"/></g><g id="k53-11"><use href="#tR" x="604.1"/></g></g>
<g id="row54" transform="translate(0 2817.7)"><g id="k54-1"><use href="#tL" x="83.3"/></g><g id="k54-2"><use href="#tL" x="135.4"/></g><g id="k54-3"><use href="#tL" x="187.5"/></g><g id="k54-4"><use href="#tL" x="239.5"/></g><g id="k54-5"><use href="#tL" x="291.6"/></g><g id="k54-6"><use href="#tL" x="343.7"/></g><g id="k54-7"><use href="#tL" x="395.8"/></g><g id="k54-8"><use href="#tL" x="447.9"/></g><g id="k54-9"><use href="#tL" x="500"/></g><g id="k54-10"><use href="#tL" x="552"/></g><g id="k54-11"><use href="#tL" x="604.1"/></g></g>
<g id="row55" transform="translate(0 2869.7)"><g id="k55-1"><use href="#tR" x="83.3"/></g><g id="k55-2"><use href="#tR" x="135.4"/></g><g id="k55-3"><use href="#tR" x="187.5"/></g><g id="k55-4"><use href="#tR" x="239.5"/></g><g id="k55-5"><use href="#tR" x="291.6"/></g><g id="k55-6"><use href="#tR" x="343.7"/></g><g id="k55-7"><use href="#tR" x="395.8"/></g><g id="k55-8"><use href="#tR" x="447.9"/></g><g id="k55-9"><use href="#tR" x="500"/></g><g id="k55-10"><use href="#tR" x="552"/></g><g id="k55-11"><use href="#tR" x="604.1"/></g></g>
<g id="row56" transform="translate(0 2921.7)"><g id="k56-1"><use href="#tL" x="83.3"/></g><g id="k56-2"><use href="#tL" x="135.4"/></g><g id="k56-3"><use href="#tL" x="187.5"/></g><g id="k56-4"><use href="#tL" x="239.5"/></g><g id="k56-5"><use href="#tL" x="291.6"/></g><g id="k56-6"><use href="#tL" x="343.7"/></g><g id="k56-7"><use href="#tL" x="395.8"/></g><g id="k56-8"><use href="#tL" x="447.9"/></g><g id="k56-9"><use href="#tL" x="500"/></g><g id="k56-10"><use href="#tL" x="552"/></g><g id="k56-11"><use href="#tL" x="604.1"/></g></g>
<g id="row57" transform="translate(0 2973.7)"><g id="k57-1"><use href="#tR" x="83.3"/></g><g id="k57-2"><use href="#tR" x="135.4"/></g><g id="k57-3"><use href="#tR" x="187.5"/></g><g id="k57-4"><use href="#tR" x="239.5"/></g><g id="k57-5"><use href="#tR" x="291.6"/></g><g id="k57-6"><use href="#tR" x="343.7"/></g><g id="k57-7"><use href="#tR" x="395.8"/></g><g id="k57-8"><use href="#tR" x="447.9"/></g><g id="k57-9"><use href="#tR" x="500"/></g><g id="k57-10"><use href="#tR" x="552"/></g><g id="k57-11"><use href="#tR" x="604.1"/></g></g>
<g id="row58" transform="translate(0 3025.7)"><g id="k58-1"><use href="#tL" x="83.3"/></g><g id="k58-2"><use href="#tL" x="135.4"/></g><g id="k58-3"><use href="#tL" x="187.5"/></g><g id="k58-4"><use href="#tL" x="239.5"/></g><g id="k58-5"><use href="#tL" x="291.6"/></g><g id="k58-6"><use href="#tL" x="343.7"/></g><g id="k58-7"><use href="#tL" x="395.8"/></g><g id="k58-8"><use href="#tL" x="447.9"/></g><g id="k58-9"><use href="#tL" x="500"/></g><g id="k58-10"><use href="#tL" x="552"/></g><g id="k58-11"><use href="#tL" x="604.1"/></g></g>
<g id="row59" transform="translate(0 3077.7)"><g id="k59-1"><use href="#tR" x="83.3"/></g><g id="k59-2"><use href="#tR" x="135.4"/></g><g id="k59-3"><use href="#tR" x="187.5"/></g><g id="k59-4"><use href="#tR" x="239.5"/></g><g id="k59-5"><use href="#tR" x="291.6"/></g><g id="k59-6"><use href="#tR" x="343.7"/></g><g id="k59-7"><use href="#tR" x="395.8"/></g><g id="k59-8"><use href="#tR" x="447.9"/></g><g id="k59-9"><use href="#tR" x="500"/></g><g id="k59-10"><use href="#tR" x="552"/></g><g id="k59-11"><use href="#tR" x="604.1"/></g></g>
<g id="row60" transform="translate(0 3129.7)"><g id="k60-1"><use href="#tL" x="83.3"/></g><g id="k60-2"><use href="#tL" x="135.4"/></g><g id="k60-3"><use href="#tL" x="187.5"/></g><g id="k60-4"><use href="#tL" x="239.5"/></g><g id="k60-5"><use href="#tL" x="291.6"/></g><g id="k60-6"><use href="#tL" x="343.7"/></g><g id="k60-7"><use href="#tL" x="395.8"/></g><g id="k60-8"><use href="#tL" x="447.9"/></g><g id="k60-9"><use href="#tL" x="500"/></g><g id="k60-10"><use href="#tL" x="552"/></g><g id="k60-11"><use href="#tL" x="604.1"/></g></g>
<g id="row61" transform="translate(0 3181.7)"><g id="k61-1"><use href="#tR" x="83.3"/></g><g id="k61-2"><use href="#tR" x="135.4"/></g><g id="k61-3"><use href="#tR" x="187.5"/></g><g id="k61-4"><use href="#tR" x="239.5"/></g><g id="k61-5"><use href="#tR" x="291.6"/></g><g id="k61-6"><use href="#tR" x="343.7"/></g><g id="k61-7"><use href="#tR" x="395.8"/></g><g id="k61-8"><use href="#tR" x="447.9"/></g><g id="k61-9"><use href="#tR" x="500"/></g><g id="k61-10"><use href="#tR" x="552"/></g><g id="k61-11"><use href="#tR" x="604.1"/></g></g>
<g id="row62" transform="translate(0 3233.7)"><g id="k62-1"><use href="#tL" x="83.3"/></g><g id="k62-2"><use href="#tL" x="135.4"/></g><g id="k62-3"><use href="#tL" x="187.5"/></g><g id="k62-4"><use href="#tL" x="239.5"/></g><g id="k62-5"><use href="#tL" x="291.6"/></g><g id="k62-6"><use href="#tL" x="343.7"/></g><g id="k62-7"><use href="#tL" x="395.8"/></g><g id="k62-8"><use href="#tL" x="447.9"/></g><g id="k62-9"><use href="#tL" x="500"/></g><g id="k62-10"><use href="#tL" x="552"/></g><g id="k62-11"><use href="#tL" x="604.1"/></g></g>
<g id="row63" transform="translate(0 3285.7)"><g id="k63-1"><use href="#tR" x="83.3"/></g><g id="k63-2"><use href="#tR" x="135.4"/></g><g id="k63-3"><use href="#tR" x="187.5"/></g><g id="k63-4"><use href="#tR" x="239.5"/></g><g id="k63-5"><use href="#tR" x="291.6"/></g><g id="k63-6"><use href="#tR" x="343.7"/></g><g id="k63-7"><use href="#tR" x="395.8"/></g><g id="k63-8"><use href="#tR" x="447.9"/></g><g id="k63-9"><use href="#tR" x="500"/></g><g id="k63-10"><use href="#tR" x="552"/></g><g id="k63-11"><use href="#tR" x="604.1"/></g></g>
</g>
<g id="labels">
<path class="gl" d="M26 113.7h40M26 165.7h40M26 217.7h40M26 269.7h40M26 321.7h40M26 373.7h40M26 425.7h40M26 477.7h40M26 529.7h40M26 581.7h40M26 633.7h40M26 737.7h40M26 789.7h40M26 841.7h40M26 893.7h40M26 945.7h40M26 997.7h40M26 1049.7h40M26 1101.7h40M26 1153.7h40M26 1205.7h40M26 1257.7h40M26 1309.7h40M26 1361.7h40M26 1413.7h40M26 1465.7h40M26 1517.7h40M26 1569.7h40M26 1621.7h40M26 1673.7h40M26 1725.7h40M26 1777.7h40M26 1829.7h40M26 1881.7h40M26 1933.7h40M26 1985.7h40M26 2037.7h40M26 2089.7h40M26 2141.7h40M26 2193.7h40M26 2245.7h40M26 2297.7h40M26 2349.7h40M26 2401.7h40M26 2453.7h40M26 2505.7h40M26 2557.7h40M26 2609.7h40M26 2661.7h40M26 2713.7h40M26 2765.7h40M26 2817.7h40M26 2869.7h40M26 2921.7h40M26 2973.7h40M26 3025.7h40M26 3077.7h40M26 3129.7h40M26 3181.7h40M26 3233.7h40M26 3285.7h40"/>
<path class="gl" d="M621 61.7h40M621 113.7h40M621 165.7h40M621 217.7h40M621 269.7h40M621 321.7h40M621 373.7h40M621 425.7h40M621 477.7h40M621 529.7h40M621 581.7h40M621 633.7h40M621 685.7h40M621 737.7h40M621 789.7h40M621 841.7h40M621 893.7h40M621 945.7h40M621 997.7h40M621 1049.7h40M621 1101.7h40M621 1153.7h40M621 1205.7h40M621 1257.7h40M621 1309.7h40M621 1361.7h40M621 1413.7h40M621 1465.7h40M621 1517.7h40M621 1569.7h40M621 1621.7h40M621 1673.7h40M621 1725.7h40M621 1777.7h40M621 1829.7h40M621 1881.7h40M621 1933.7h40M621 1985.7h40M621 2037.7h40M621 2089.7h40M621 2141.7h40M621 2193.7h40M621 2245.7h40M621 2297.7h40M621 2349.7h40M621 2401.7h40M621 2453.7h40M621 2505.7h40M621 2557.7h40M621 2609.7h40M621 2713.7h40M621 2765.7h40M621 2817.7h40M621 2869.7h40M621 2921.7h40M621 2973.7h40M621 3025.7h40M621 3077.7h40M621 3129.7h40M621 3181.7h40M621 3233.7h40"/>
<g class="lb" text-anchor="end">
<text x="21" y="66">1</text><text x="21" y="118">2</text><text x="21" y="170">3</text><text x="21" y="222">4</text><text x="21" y="274">5</text><text x="21" y="326">6</text><text x="21" y="378">7</text><text x="21" y="430">8</text><text x="21" y="482">9</text><text x="21" y="534">10</text><text x="21" y="586">11</text><text x="21" y="638">12</text><text x="21" y="690">13</text><text x="21" y="742">14</text><text x="21" y="794">15</text><text x="21" y="846">16</text><text x="21" y="898">17</text><text x="21" y="950">18</text><text x="21" y="1002">19</text><text x="21" y="1054">20</text><text x="21" y="1106">21</text><text x="21" y="1158">22</text><text x="21" y="1210">23</text><text x="21" y="1262">24</text><text x="21" y="1314">25</text><text x="21" y="1366">26</text><text x="21" y="1418">27</text><text x="21" y="1470">28</text><text x="21" y="1522">29</text><text x="21" y="1574">30</text><text x="21" y="1626">31</text><text x="21" y="1678">32</text><text x="21" y="1730">33</text><text x="21" y="1782">34</text><text x="21" y="1834">35</text><text x="21" y="1886">36</text><text x="21" y="1938">37</text><text x="21" y="1990">38</text><text x="21" y="2042">39</text><text x="21" y="2094">40</text><text x="21" y="2146">41</text><text x="21" y="2198">42</text><text x="21" y="2250">43</text><text x="21" y="2302">44</text><text x="21" y="2354">45</text><text x="21" y="2406">46</text><text x="21" y="2458">47</text><text x="21" y="2510">48</text><text x="21" y="2562">49</text><text x="21" y="2614">50</text><text x="21" y="2666">51</text><text x="21" y="2718">52</text><text x="21" y="2770">53</text><text x="21" y="2822">54</text><text x="21" y="2874">55</text><text x="21" y="2926">56</text><text x="21" y="2978">57</text><text x="21" y="3030">58</text><text x="21" y="3082">59</text><text x="21" y="3134">60</text><text x="21" y="3186">61</text><text x="21" y="3238">62</text><text x="21" y="3290">63</text>
</g>
<g class="lb">
<text x="667" y="66">1</text><text x="667" y="118">2</text><text x="667" y="170">3</text><text x="667" y="222">4</text><text x="667" y="274">5</text><text x="667" y="326">6</text><text x="667" y="378">7</text><text x="667" y="430">8</text><text x="667" y="482">9</text><text x="667" y="534">10</text><text x="667" y="586">11</text><text x="667" y="638">12</text><text x="667" y="690">13</text><text x="667" y="742">14</text><text x="667" y="794">15</text><text x="667" y="846">16</text><text x="667" y="898">17</text><text x="667" y="950">18</text><text x="667" y="1002">19</text><text x="667" y="1054">20</text><text x="667" y="1106">21</text><text x="667" y="1158">22</text><text x="667" y="1210">23</text><text x="667" y="1262">24</text><text x="667" y="1314">25</text><text x="667" y="1366">26</text><text x="667" y="1418">27</text><text x="667" y="1470">28</text><text x="667" y="1522">29</text><text x="667" y="1574">30</text><text x="667" y="1626">31</text><text x="667" y="1678">32</text><text x="667" y="1730">33</text><text x="667" y="1782">34</text><text x="667" y="1834">35</text><text x="667" y="1886">36</text><text x="667" y="1938">37</text><text x="667" y="1990">38</text><text x="667" y="2042">39</text><text x="667" y="2094">40</text><text x="667" y="2146">41</text><text x="667" y="2198">42</text><text x="667" y="2250">43</text><text x="667" y="2302">44</text><text x="667" y="2354">45</text><text x="667" y="2406">46</text><text x="667" y="2458">47</text><text x="667" y="2510">48</text><text x="667" y="2562">49</text><text x="667" y="2614">50</text><text x="667" y="2666">51</text><text x="667" y="2718">52</text><text x="667" y="2770">53</text><text x="667" y="2822">54</text><text x="667" y="2874">55</text><text x="667" y="2926">56</text><text x="667" y="2978">57</text><text x="667" y="3030">58</text><text x="667" y="3082">59</text><text x="667" y="3134">60</text><text x="667" y="3186">61</text><text x="667" y="3238">62</text><text x="667" y="3290">63</text>
</g>
</g>
<text id="watermark" class="wm" x="345" y="1705" text-anchor="middle" textLength="154" lengthAdjust="spacingAndGlyphs">BRACELETBOOK.COM</text>
</svg>
